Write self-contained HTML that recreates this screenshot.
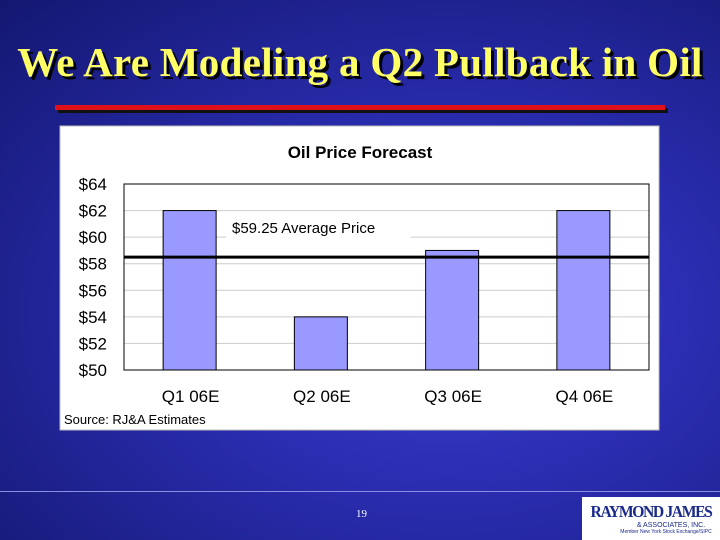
<!DOCTYPE html>
<html><head><meta charset="utf-8"><style>
body{margin:0;width:720px;height:540px;overflow:hidden;font-family:"Liberation Sans",sans-serif}
#slide{position:relative;width:720px;height:540px;background:radial-gradient(ellipse at 62% 58%,#3a3ed0 0%,#2a2db0 40%,#131770 100%)}
</style></head><body>
<div id="slide">
<div style="position:absolute;left:0;top:38px;width:720px;text-align:center;font-family:'Liberation Serif',serif;font-weight:bold;font-size:41px;letter-spacing:0.3px;color:#ffff66;text-shadow:3px 3px 0 #000;white-space:nowrap">We Are Modeling a Q2 Pullback in Oil</div>
<div style="position:absolute;left:55px;top:105px;width:610px;height:5px;background:#e0101a;box-shadow:3px 3px 0 #111"></div>
<svg style="position:absolute;left:0;top:0" width="720" height="540" id="chart"></svg>
<div style="position:absolute;left:0;top:491px;width:720px;height:1px;background:#8a90e0"></div>
<div style="position:absolute;left:356px;top:508px;font-family:'Liberation Serif',serif;font-size:11px;color:#fff">19</div>
<div style="position:absolute;left:582px;top:497px;width:138px;height:43px;background:#fff;text-align:center;overflow:hidden">
<div style="font-family:'Liberation Serif',serif;font-weight:bold;font-size:17px;color:#1a2a8a;letter-spacing:-1.5px;margin-top:5px;transform:scaleX(0.92);white-space:nowrap">RAYMOND JAMES</div>
<div style="font-size:7px;color:#1a2a8a;margin-left:40px">&amp; ASSOCIATES, INC.</div>
<div style="font-size:5px;color:#1a2a8a;margin-left:30px;white-space:nowrap">Member New York Stock Exchange/SIPC</div>
</div>
</div>
<script>
const categories=["Q1 06E","Q2 06E","Q3 06E","Q4 06E"];
const prices=[62,54,59,62];
const averageLine=[58.5];
const yTicks=[50,52,54,56,58,60,62,64];
const yTickLabels=["$50","$52","$54","$56","$58","$60","$62","$64"];
const svg=document.getElementById('chart');
const NS='http://www.w3.org/2000/svg';
const L=124,R=649,T=184,B=370,ymin=50,ymax=64;
const y=v=>B-(v-ymin)/(ymax-ymin)*(B-T);
const bw=(R-L)/categories.length;
const x=i=>L+bw*(i+0.5);
function mk(tag,attrs,txt){const e=document.createElementNS(NS,tag);for(const k in attrs)e.setAttribute(k,attrs[k]);if(txt!==undefined)e.textContent=txt;svg.appendChild(e);return e;}
let e;
e=mk('rect',{x:60,y:126,width:599,height:304,fill:'#fff',stroke:'#bbb'});


e=mk('text',{x:360,y:158,'text-anchor':'middle','font-size':17,'font-weight':'bold',fill:'#000'},'Oil Price Forecast');


yTicks.forEach((t,i)=>{
  if(t>ymin&&t<ymax){e=mk('line',{x1:L,x2:R,y1:y(t),y2:y(t),stroke:'#ccc','stroke-width':1});
  
  }
  e=mk('text',{x:107,y:y(t)+6,'text-anchor':'end','font-size':17,fill:'#000'},yTickLabels[i]);
  
  
});
e=mk('rect',{x:L,y:T,width:R-L,height:B-T,fill:'none',stroke:'#000','stroke-width':1});


e=mk('rect',{x:226,y:213,width:185,height:28,fill:'#fff'});


prices.forEach((p,i)=>{
  e=mk('rect',{x:x(i)-26.5,y:y(p),width:53,height:B-y(p),fill:'#9999ff',stroke:'#000','stroke-width':1});
  
  
  e=mk('text',{x:x(i)+1,y:402,'text-anchor':'middle','font-size':17,fill:'#000'},categories[i]);
  
  
});
e=mk('line',{x1:L,x2:R,y1:y(averageLine[0]),y2:y(averageLine[0]),stroke:'#000','stroke-width':3});


e=mk('text',{x:232,y:233,'font-size':15,fill:'#000'},'$59.25 Average Price');


e=mk('text',{x:64,y:424,'font-size':13,fill:'#000'},'Source: RJ&A Estimates');


</script>
</body></html>
